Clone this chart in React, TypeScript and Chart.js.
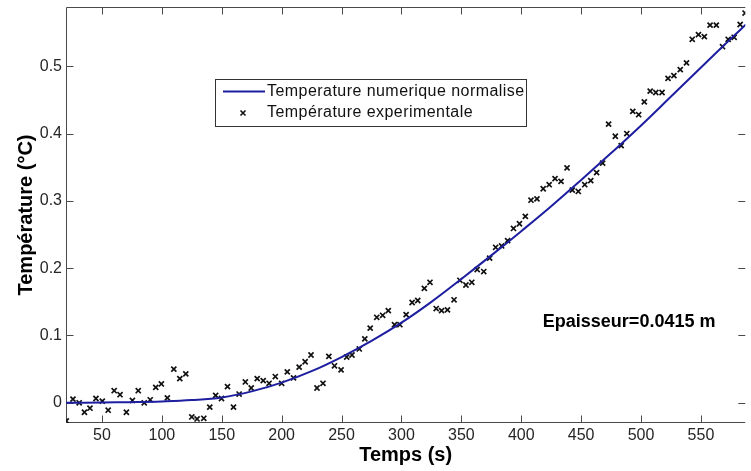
import React, { useEffect, useRef } from 'react';
import { Chart, registerables } from 'chart.js';

Chart.register(...registerables);

// ---- Data ----
const xTicks = [50, 100, 150, 200, 250, 300, 350, 400, 450, 500, 550];
const yTicks = [0, 0.1, 0.2, 0.3, 0.4, 0.5];
const yTickLabels = ['0', '0.1', '0.2', '0.3', '0.4', '0.5'];

const curveT = [20, 50, 75, 100, 125, 150, 175, 200, 225, 250, 275, 300, 325, 350, 375, 400, 425, 450, 475, 500, 525, 550, 575, 587.5];
const curveV = [0, 0.0005, 0.001, 0.002, 0.004, 0.008, 0.017, 0.03, 0.047, 0.068, 0.092, 0.119, 0.15, 0.184, 0.219, 0.255, 0.292, 0.331, 0.371, 0.412, 0.455, 0.498, 0.541, 0.562];

const expT = [
  20.2, 25.8, 31, 35.4, 40, 45, 50.3, 55.2, 60.2, 65.1,
  70.4, 75.4, 80.3, 85.3, 90.3, 94.9, 99.6, 104.6, 110,
  115, 120, 125, 129.4, 135, 140, 144.9, 149.8, 154.8, 159.8,
  164.5, 169.7, 174.6, 179.6, 184.6, 189.5, 194.7, 200, 204.7, 209.9, 214.6,
  219.6, 224.5, 229.5, 234.5, 239.4, 244.1, 249.6, 254.3, 258.7, 264.8,
  269.4, 273.9, 279.4, 284.3, 289, 294.2, 298.7, 303.9, 308.9, 313.6,
  319.1, 323.8, 329, 333.5, 338.4, 343.9, 348.8, 353.8, 358.7, 363.2,
  368.7, 373.6, 378.6, 383.6, 388.6, 393.5, 398.5, 403.4, 408.1, 413.1,
  418.3, 423.3, 428.2, 433.2, 438.2, 442.6, 447.6, 453, 458, 462.9,
  467.9, 472.9, 478.5, 483.4, 488.1, 493.1, 498, 502.7, 507.6, 512.3,
  517.5, 522.5, 527.4, 532.7, 537.9, 542.7, 547.9, 552.8, 557.6, 562.8,
  568, 572.7, 577.7, 582.7, 586.8,
];
const expV = [
  -0.027, 0.0055, 0.0, -0.014, -0.008, 0.0064, 0.0025, -0.011, 0.018, 0.012,
  -0.014, 0.0035, 0.018, 0.0, 0.0045, 0.023, 0.028, 0.0074, 0.05,
  0.036, 0.043, -0.021, -0.024, -0.023, -0.0064, 0.011, 0.0064, 0.024, -0.0064,
  0.013, 0.031, 0.022, 0.036, 0.033, 0.029, 0.039, 0.029, 0.046, 0.037, 0.053,
  0.061, 0.071, 0.022, 0.029, 0.069, 0.055, 0.049, 0.068, 0.071, 0.08,
  0.095, 0.111, 0.127, 0.13, 0.137, 0.116, 0.116, 0.131, 0.149, 0.152,
  0.17, 0.179, 0.14, 0.137, 0.138, 0.153, 0.182, 0.175, 0.179, 0.198,
  0.195, 0.215, 0.231, 0.233, 0.241, 0.259, 0.266, 0.277, 0.301, 0.303,
  0.318, 0.324, 0.333, 0.329, 0.349, 0.316, 0.314, 0.324, 0.33, 0.342,
  0.356, 0.414, 0.396, 0.382, 0.4, 0.433, 0.428, 0.447, 0.463, 0.461,
  0.461, 0.482, 0.486, 0.495, 0.505, 0.54, 0.547, 0.544, 0.561, 0.561,
  0.529, 0.54, 0.543, 0.562, 0.579,
];

const seriesNames = ['Temperature numerique normalise', 'Température experimentale'];
const annotationText = 'Epaisseur=0.0415 m';
const annotationAt = { x: 418, y: 0.12 };

const FONT = "'Liberation Sans', Arial, Helvetica, sans-serif";
const CURVE_COLOR = '#1e1ea0';
const MARK_COLOR = '#111111';

export default function App() {
  const canvasRef = useRef<HTMLCanvasElement | null>(null);

  useEffect(() => {
    document.body.style.margin = '0';
    document.body.style.background = '#ffffff';
    const canvas = canvasRef.current;
    if (!canvas) return;

    const boxPlugin = {
      id: 'matlabBox',
      beforeDatasetsDraw(chart: any) {
        const { ctx, chartArea: a, scales } = chart;
        const L = Math.round(a.left) + 0.5;
        const T = Math.round(a.top) + 0.5;
        const B = Math.round(a.bottom) - 0.5;
        const R = a.right;
        ctx.save();
        ctx.strokeStyle = '#4a4a4a';
        ctx.lineWidth = 1;
        ctx.beginPath();
        ctx.moveTo(L, B);
        ctx.lineTo(L, T);
        ctx.lineTo(R, T);
        ctx.moveTo(L, B);
        ctx.lineTo(R, B);
        const tl = 7;
        for (const v of xTicks) {
          const px = Math.round(scales.x.getPixelForValue(v)) + 0.5;
          ctx.moveTo(px, B);
          ctx.lineTo(px, B - tl);
          ctx.moveTo(px, T);
          ctx.lineTo(px, T + tl);
        }
        for (const v of yTicks) {
          const py = Math.round(scales.y.getPixelForValue(v)) + 0.5;
          ctx.moveTo(L, py);
          ctx.lineTo(L + tl, py);
          ctx.moveTo(R, py);
          ctx.lineTo(R - tl, py);
        }
        ctx.stroke();
        ctx.restore();
      },
      afterDraw(chart: any) {
        const { ctx, scales } = chart;
        ctx.save();
        // legend box
        const lx = 215, ly = 79, lw = 311, lh = 47;
        ctx.fillStyle = '#ffffff';
        ctx.fillRect(lx, ly, lw, lh);
        ctx.strokeStyle = '#333333';
        ctx.lineWidth = 1;
        ctx.strokeRect(lx + 0.5, ly + 0.5, lw, lh);
        const row1 = 91.5, row2 = 113;
        // line sample
        ctx.strokeStyle = CURVE_COLOR;
        ctx.lineWidth = 2;
        ctx.beginPath();
        ctx.moveTo(223, row1);
        ctx.lineTo(265, row1);
        ctx.stroke();
        // marker sample
        ctx.strokeStyle = MARK_COLOR;
        ctx.lineWidth = 1.6;
        const mx = 243, my = row2, r = 2.5;
        ctx.beginPath();
        ctx.moveTo(mx - r, my - r);
        ctx.lineTo(mx + r, my + r);
        ctx.moveTo(mx - r, my + r);
        ctx.lineTo(mx + r, my - r);
        ctx.stroke();
        ctx.fillStyle = '#111111';
        ctx.font = `16px ${FONT}`;
        try { (ctx as any).letterSpacing = '0.45px'; } catch (e) { /* ignore */ }
        ctx.textBaseline = 'middle';
        ctx.textAlign = 'left';
        ctx.fillText(seriesNames[0], 267, row1);
        ctx.fillText(seriesNames[1], 267, row2);
        try { (ctx as any).letterSpacing = '0px'; } catch (e) { /* ignore */ }
        // annotation
        ctx.font = `bold 18px ${FONT}`;
        ctx.fillStyle = '#000000';
        ctx.fillText(annotationText, scales.x.getPixelForValue(annotationAt.x), scales.y.getPixelForValue(annotationAt.y));
        ctx.restore();
      },
    };

    const chart = new Chart(canvas, {
      type: 'scatter',
      data: {
        datasets: [
          {
            type: 'line',
            label: seriesNames[0],
            data: curveT.map((t, i) => ({ x: t, y: curveV[i] })),
            borderColor: CURVE_COLOR,
            backgroundColor: CURVE_COLOR,
            borderWidth: 2,
            pointRadius: 0,
            fill: false,
            tension: 0.4,
          } as any,
          {
            type: 'scatter',
            label: seriesNames[1],
            data: expT.map((t, i) => ({ x: t, y: expV[i] })),
            pointStyle: 'crossRot',
            pointRadius: 3.6,
            borderColor: MARK_COLOR,
            backgroundColor: MARK_COLOR,
            borderWidth: 1.7,
          } as any,
        ],
      },
      options: {
        animation: false,
        responsive: false,
        maintainAspectRatio: false,
        devicePixelRatio: 1,
        layout: { padding: { top: 7, right: 0, left: 0, bottom: 0 } },
        plugins: { legend: { display: false }, tooltip: { enabled: false } },
        scales: {
          x: {
            type: 'linear',
            min: 20,
            max: 587,
            grid: { display: false, drawTicks: false },
            border: { display: false },
            afterBuildTicks: (s: any) => {
              s.ticks = xTicks.map((v) => ({ value: v }));
            },
            afterFit: (s: any) => {
              s.height = 48;
              s.paddingLeft = 0;
              s.paddingRight = 0;
            },
            ticks: {
              color: '#262626',
              font: { family: FONT, size: 16 },
              padding: 3,
              maxRotation: 0,
              autoSkip: false,
              callback: (v: any) => String(v),
            },
            title: {
              display: true,
              text: 'Temps (s)',
              color: '#000000',
              font: { family: FONT, size: 20, weight: 'bold' },
              padding: { top: 0, bottom: 4 },
            },
          },
          y: {
            type: 'linear',
            min: -0.03,
            max: 0.588,
            grid: { display: false, drawTicks: false },
            border: { display: false },
            afterBuildTicks: (s: any) => {
              s.ticks = yTicks.map((v) => ({ value: v }));
            },
            afterFit: (s: any) => {
              s.width = 66;
              s.paddingTop = 0;
              s.paddingBottom = 0;
            },
            ticks: {
              color: '#262626',
              font: { family: FONT, size: 16 },
              padding: 4,
              autoSkip: false,
              callback: (v: any) => {
                const i = yTicks.findIndex((t) => Math.abs(t - Number(v)) < 1e-9);
                return i >= 0 ? yTickLabels[i] : '';
              },
            },
            title: {
              display: true,
              text: 'Température (°C)',
              color: '#000000',
              font: { family: FONT, size: 20, weight: 'bold' },
              padding: { top: 14, bottom: 0 },
            },
          },
        },
      } as any,
      plugins: [boxPlugin],
    });

    return () => chart.destroy();
  }, []);

  return (
    <div style={{ position: 'absolute', left: 0, top: 0, width: 751, height: 471, background: '#fff', overflow: 'hidden' }}>
      <canvas ref={canvasRef} width={751} height={471} style={{ display: 'block', width: 751, height: 471 }} />
    </div>
  );
}
